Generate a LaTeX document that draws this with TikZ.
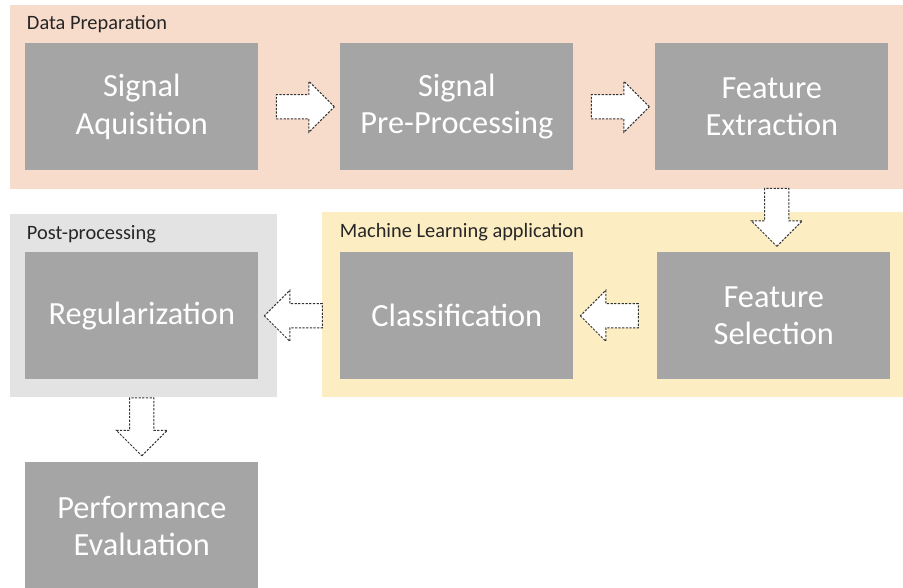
\documentclass[tikz,border=0pt]{standalone}
\usepackage{fontspec}
\setmainfont{Carlito}
\usetikzlibrary{shapes.arrows, calc}
\definecolor{boxgray}{HTML}{A5A5A5}
\definecolor{prepbg}{HTML}{F8DCCB}
\definecolor{learnbg}{HTML}{FDEDC3}
\definecolor{postbg}{HTML}{E3E3E3}
\definecolor{labeltext}{HTML}{262626}

\tikzset{
    stepbox/.style={fill=boxgray, text=white, minimum width=5.825cm, minimum height=3.175cm,
        align=center, font=\fontsize{23}{26.5}\selectfont, anchor=north west},
    grouplabel/.style={anchor=west, text=labeltext, font=\fontsize{14.5}{16}\selectfont},
    flowarrow/.style={single arrow, draw=black!80, dash pattern=on 1.6pt off 1pt, fill=white,
        minimum height=1.45cm, minimum width=1.25cm, inner sep=0.29cm,
        single arrow head extend=0.335cm, line width=0.7pt}
}

\begin{document}
\begin{tikzpicture}[x=0.025cm, y=-0.025cm]
    \clip (0, 0) rectangle (903, 587);
    \fill[white] (0, 0) rectangle (903, 587);

    % group panels
    \fill[prepbg] (10, 5) rectangle (903, 189);
    \fill[learnbg] (322, 212) rectangle (903, 397);
    \fill[postbg] (10, 214) rectangle (277, 397);
    \node[grouplabel] (prep) at (22, 24) {Data Preparation};
    \node[grouplabel] (post) at (22, 234) {Post-processing};
    \node[grouplabel] (learn) at (335, 232) {Machine Learning application};

    % steps
    \node[stepbox] (acq) at (25, 43) {Signal\\Aquisition};
    \node[stepbox] (pre) at (340, 43) {Signal\\Pre-Processing};
    \node[stepbox] (ext) at (655, 43) {Feature\\Extraction};
    \node[stepbox] (sel) at (657, 252) {Feature\\Selection};
    \node[stepbox] (cls) at (340, 252) {Classification};
    \node[stepbox] (reg) at (25, 252) {Regularization};
    \node[stepbox] (eval) at (25, 462) {Performance\\Evaluation};

    % arrows between steps
    \node[flowarrow] (a1) at ($(acq.east)!0.5!(pre.west)$) {};
    \node[flowarrow] (a2) at ($(pre.east)!0.5!(ext.west)$) {};
    \node[flowarrow, shape border rotate=270] (a3) at ($(ext.south)!0.5!(sel.north) + (4, 0)$) {};
    \node[flowarrow, shape border rotate=180] (a4) at ($(sel.west)!0.5!(cls.east)$) {};
    \node[flowarrow, shape border rotate=180] (a5) at ($(cls.west)!0.5!(reg.east)$) {};
    \node[flowarrow, shape border rotate=270] (a6) at ($(reg.south)!0.5!(eval.north)$) {};
\end{tikzpicture}
\end{document}
